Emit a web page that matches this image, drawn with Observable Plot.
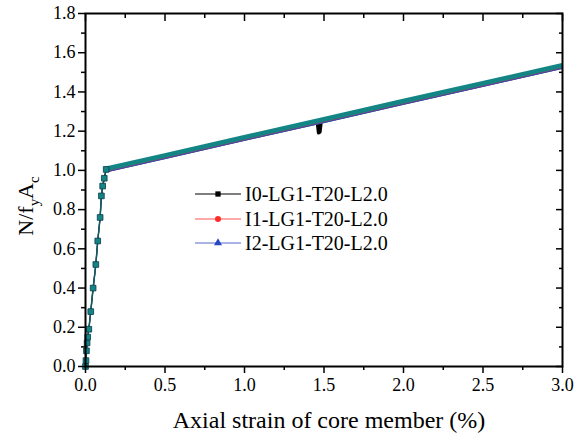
<!DOCTYPE html>
<html><head><meta charset="utf-8">
<script src="https://cdn.jsdelivr.net/npm/d3@7"></script>
<script src="https://cdn.jsdelivr.net/npm/@observablehq/plot@0.6"></script>
<style>
body{margin:0;background:#fff}
svg text, svg tspan { font-family: 'Liberation Serif', 'Times New Roman', serif !important; }
</style>
</head><body><div id="chart"></div>
<script>
// ---- data ----
const seriesNames = ["I0-LG1-T20-L2.0", "I1-LG1-T20-L2.0", "I2-LG1-T20-L2.0"];
const seriesColors = ["#000000", "#ff2a2a", "#2a46c0"];
const seriesSymbols = ["square", "circle", "triangle"];
const bandColor = "#138585";

const elasticStrain = [0, 0.003, 0.006, 0.010, 0.014, 0.021, 0.033, 0.048, 0.065, 0.077, 0.092, 0.100, 0.108, 0.118, 0.130];
const elasticLoad   = [0, 0.03, 0.08, 0.12, 0.15, 0.19, 0.28, 0.40, 0.52, 0.64, 0.76, 0.87, 0.92, 0.96, 1.005];

const plasticStrain = [0.13, 0.5, 1.0, 1.5, 2.0, 2.5, 3.0];
const plasticLoad   = [1.005, 1.073, 1.166, 1.257, 1.350, 1.441, 1.533];
const plasticLoadI1 = [0.993, 1.061, 1.154, 1.245, 1.338, 1.429, 1.521];
const plasticLoadI2 = [0.992, 1.060, 1.153, 1.244, 1.337, 1.428, 1.520];

// I0 has a small drop near 1.47 %
const dipStrain = [1.458, 1.466, 1.474, 1.482];
const dipLoad   = [1.249, 1.192, 1.196, 1.252];

const xMajor = [0, 0.5, 1.0, 1.5, 2.0, 2.5, 3.0];
const xMinor = [0.25, 0.75, 1.25, 1.75, 2.25, 2.75];
const yMajor = [0, 0.2, 0.4, 0.6, 0.8, 1.0, 1.2, 1.4, 1.6, 1.8];
const yMinor = [0.1, 0.3, 0.5, 0.7, 0.9, 1.1, 1.3, 1.5, 1.7];

const xTitle = "Axial strain of core member (%)";

// ---- build tables ----
const elastic = elasticStrain.map((x, i) => ({x, y: elasticLoad[i]}));
const band = plasticStrain.map((x, i) => ({x, y: plasticLoad[i]}));
const dip = dipStrain.map((x, i) => ({x, y: dipLoad[i]}));
const redLine = elastic.concat(plasticStrain.map((x, i) => ({x, y: plasticLoadI1[i]})));
const blueLine = elastic.concat(plasticStrain.map((x, i) => ({x, y: plasticLoadI2[i]})));
const blackLine = elastic.concat(band);

const font = "Liberation Serif";
const ax = {strokeWidth: 1.5, label: null, tickFormat: () => ""};
const fmt = d => d.toFixed(1);

const plot = Plot.plot({
  width: 585, height: 434,
  marginLeft: 85, marginRight: 23, marginTop: 13, marginBottom: 68,
  style: {fontFamily: font, background: "#fff", color: "#000"},
  x: {domain: [0, 3], label: null},
  y: {domain: [0, 1.8], label: null},
  marks: [
    Plot.line(dip, {x: "x", y: "y", stroke: seriesColors[0], strokeWidth: 3.5}),
    Plot.line(blackLine, {x: "x", y: "y", stroke: seriesColors[0], strokeWidth: 1.2}),
    Plot.line(band, {x: "x", y: "y", stroke: bandColor, strokeWidth: 6, strokeLinecap: "butt"}),
    Plot.line(redLine, {x: "x", y: "y", stroke: seriesColors[1], strokeWidth: 0.9}),
    Plot.line(blueLine, {x: "x", y: "y", stroke: seriesColors[2], strokeWidth: 0.9}),
    Plot.line(elastic, {x: "x", y: "y", stroke: "#0d6060", strokeWidth: 1.5}),
    Plot.dot(elastic, {x: "x", y: "y", symbol: seriesSymbols[0], r: 3.2, fill: bandColor, stroke: "#0a3a4a", strokeWidth: 0.8}),
    // ticks
    Plot.axisY(yMajor, {...ax, tickSize: 7}),
    Plot.axisY(yMinor, {...ax, tickSize: 4}),
    Plot.axisY(yMajor, {...ax, anchor: "right", tickSize: -7}),
    Plot.axisY(yMinor, {...ax, anchor: "right", tickSize: -4}),
    Plot.axisX(xMajor, {...ax, tickSize: 7}),
    Plot.axisX(xMinor, {...ax, tickSize: 4}),
    Plot.axisX(xMajor, {...ax, anchor: "top", tickSize: -7}),
    Plot.axisX(xMinor, {...ax, anchor: "top", tickSize: -4}),
    // tick labels
    Plot.text(yMajor, {x: 0, y: d => d, text: fmt, textAnchor: "end", dx: -10, fontSize: 18, fill: "#000", fontFamily: font}),
    Plot.text(xMajor, {x: d => d, y: 0, text: fmt, lineAnchor: "top", dy: 12, fontSize: 18, fill: "#000", fontFamily: font}),
    Plot.frame({stroke: "#000", strokeWidth: 2}),
    Plot.text([xTitle], {frameAnchor: "bottom", lineAnchor: "middle", dy: 54, dx: 5, fontSize: 24, fill: "#000", fontFamily: font})
  ]
});

const svg = d3.select(plot);

const yt = svg.append("text")
  .attr("transform", "translate(33,206) rotate(-90)")
  .attr("text-anchor", "middle")
  .attr("fill", "#000")
  .attr("font-family", font)
  .style("font-size", "22px");
yt.append("tspan").text("N/f");
yt.append("tspan").attr("dy", 6).style("font-size", "15px").text("y");
yt.append("tspan").attr("dy", -6).text("A");
yt.append("tspan").attr("dy", 6).style("font-size", "15px").text("c");

const legendRows = [194, 219, 243];
const lg = svg.append("g");
seriesNames.forEach((name, i) => {
  const yy = legendRows[i];
  lg.append("line").attr("x1", 195).attr("x2", 241).attr("y1", yy).attr("y2", yy)
    .attr("stroke", seriesColors[i]).attr("stroke-width", 1.2).attr("opacity", i === 0 ? 1 : 0.8);
  const sym = {square: d3.symbolSquare, circle: d3.symbolCircle, triangle: d3.symbolTriangle}[seriesSymbols[i]];
  lg.append("path").attr("d", d3.symbol(sym, 28)()).attr("transform", `translate(218,${yy})`)
    .attr("fill", seriesColors[i]);
  lg.append("text").attr("x", 245).attr("y", yy).attr("dy", "0.35em")
    .attr("text-anchor", "start").attr("font-family", font)
    .attr("fill", "#000").style("font-size", "20px").text(name);
});

document.getElementById("chart").append(plot);
</script>
</body></html>
